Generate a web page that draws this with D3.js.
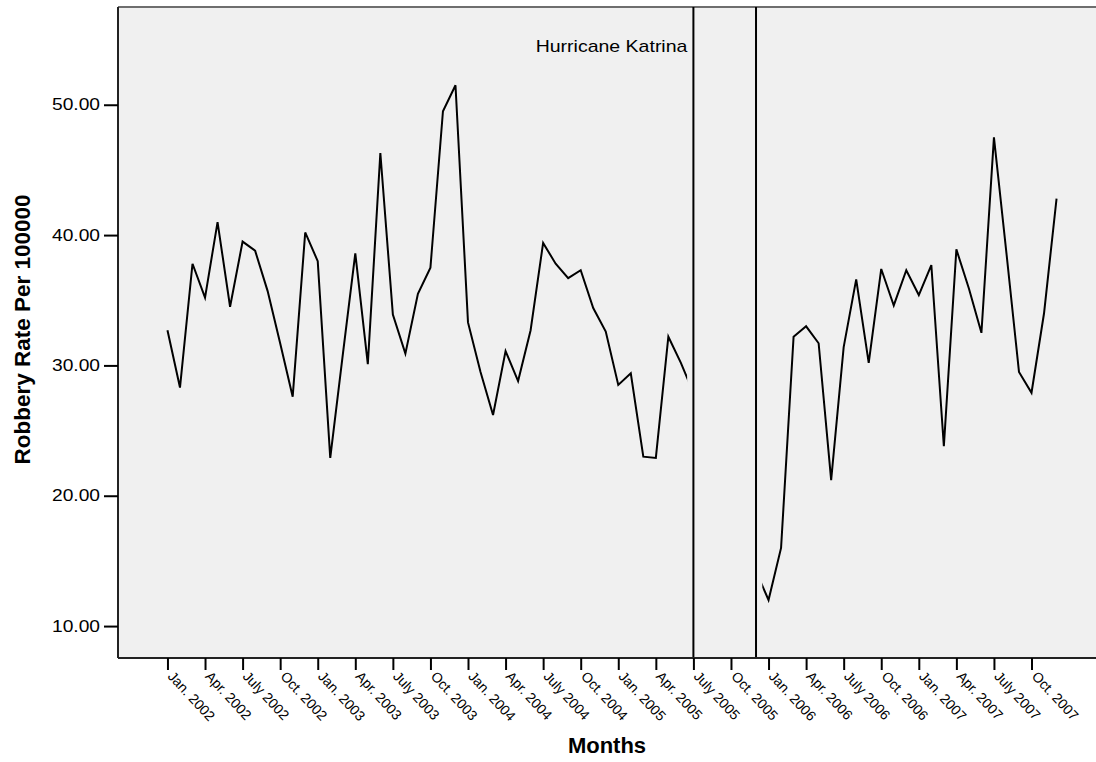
<!DOCTYPE html>
<html>
<head>
<meta charset="utf-8">
<script src="https://cdn.jsdelivr.net/npm/d3@7"></script>
<style>
  html, body { margin: 0; padding: 0; background: #ffffff; }
  svg { display: block; font-family: "Liberation Sans", Arial, sans-serif; }
</style>
</head>
<body>
<svg id="chart" width="1096" height="762"></svg>
<script>
// ---- data (monthly, Jan 2002 .. Dec 2007) ----
const monthIndex = d3.range(72); // 0 = Jan. 2002
const robberyRate = [
  32.7, 28.3, 37.8, 35.2, 41.0, 34.5, 39.5, 38.8, 35.7, 31.7, 27.6, 40.2,   // 2002
  38.0, 22.9, 30.8, 38.6, 30.1, 46.3, 33.9, 30.9, 35.5, 37.5, 49.5, 51.5,   // 2003
  33.3, 29.5, 26.2, 31.1, 28.8, 32.7, 39.4, 37.8, 36.7, 37.3, 34.4, 32.6,   // 2004
  28.5, 29.4, 23.0, 22.9, 32.2, 30.2, 27.9, null, null, null, null, 14.2,   // 2005
  12.0, 16.0, 32.2, 33.0, 31.7, 21.2, 31.4, 36.6, 30.2, 37.4, 34.6, 37.3,   // 2006
  35.4, 37.7, 23.8, 38.9, 35.9, 32.5, 47.5, 38.6, 29.5, 27.9, 34.0, 42.8    // 2007
];
const tickMonths = [0,3,6,9,12,15,18,21,24,27,30,33,36,39,42,45,48,51,54,57,60,63,66,69];
const tickLabels = [
  "Jan. 2002","Apr. 2002","July 2002","Oct. 2002",
  "Jan. 2003","Apr. 2003","July 2003","Oct. 2003",
  "Jan. 2004","Apr. 2004","July 2004","Oct. 2004",
  "Jan. 2005","Apr. 2005","July 2005","Oct. 2005",
  "Jan. 2006","Apr. 2006","July 2006","Oct. 2006",
  "Jan. 2007","Apr. 2007","July 2007","Oct. 2007"
];
const yTicks = [10, 20, 30, 40, 50];
const refLines = [42, 47];           // July 2005, Dec. 2005
const refLabel = "Hurricane Katrina";
const gapMonths = [41.5, 47.5];      // no line drawn between these

// ---- layout ----
const svg = d3.select("#chart");
const plot = { left: 118, right: 1097, top: 7, bottom: 658 };
const textStretch = 1.2;

const x = d3.scaleLinear().domain([-3.95, 74.15]).range([plot.left, 1096]);
const y = d3.scaleLinear().domain([7.55, 57.5]).range([plot.bottom, plot.top]);

// background
svg.append("rect")
  .attr("x", plot.left).attr("y", plot.top)
  .attr("width", plot.right - plot.left).attr("height", plot.bottom - plot.top)
  .attr("fill", "#f0f0f0");

// top border (grey)
svg.append("line")
  .attr("x1", plot.left).attr("x2", plot.right)
  .attr("y1", plot.top).attr("y2", plot.top)
  .attr("stroke", "#6e6e6e").attr("stroke-width", 2);

// clip paths excluding the gap
const defs = svg.append("defs");
const cp = defs.append("clipPath").attr("id", "clipData");
cp.append("rect")
  .attr("x", plot.left).attr("y", plot.top)
  .attr("width", x(gapMonths[0]) - plot.left).attr("height", plot.bottom - plot.top);
cp.append("rect")
  .attr("x", x(gapMonths[1])).attr("y", plot.top)
  .attr("width", plot.right - x(gapMonths[1])).attr("height", plot.bottom - plot.top);

// data line
const line = d3.line()
  .defined(d => d[1] !== null)
  .x(d => x(d[0]))
  .y(d => y(d[1]));
svg.append("path")
  .datum(monthIndex.map(i => [i, robberyRate[i]]))
  .attr("d", line)
  .attr("fill", "none")
  .attr("stroke", "#000")
  .attr("stroke-width", 2)
  .attr("stroke-linejoin", "miter")
  .attr("clip-path", "url(#clipData)");

// reference lines
svg.selectAll("line.ref").data(refLines).enter().append("line")
  .attr("class", "ref")
  .attr("x1", d => x(d)).attr("x2", d => x(d))
  .attr("y1", plot.top).attr("y2", plot.bottom)
  .attr("stroke", "#000").attr("stroke-width", 2);

svg.append("text")
  .attr("transform", `translate(${x(refLines[0]) - 6},52) scale(1.22,1)`)
  .attr("text-anchor", "end")
  .attr("font-size", 16)
  .attr("fill", "#000")
  .text(refLabel);

// y axis
const yAxis = d3.axisLeft(y).tickValues(yTicks).tickFormat(d3.format(".2f")).tickSize(14).tickPadding(4);
const gy = svg.append("g").attr("transform", `translate(${plot.left},0)`).call(yAxis);
gy.select(".domain").attr("stroke", "#222").attr("stroke-width", 2)
  .attr("d", `M0,${plot.top}V${plot.bottom}`);
gy.selectAll(".tick line").attr("stroke", "#000").attr("stroke-width", 2);
gy.selectAll(".tick text")
  .attr("font-size", 16)
  .attr("font-family", "Liberation Sans, Arial, sans-serif")
  .attr("fill", "#000")
  .attr("x", 0)
  .attr("transform", `translate(-18,0) scale(${textStretch},1)`);

// x axis
const xAxis = d3.axisBottom(x).tickValues(tickMonths).tickFormat((d, i) => tickLabels[i]).tickSize(12).tickPadding(0);
const gx = svg.append("g").attr("transform", `translate(0,${plot.bottom})`).call(xAxis);
gx.select(".domain").attr("stroke", "#222").attr("stroke-width", 2)
  .attr("d", `M${plot.left},0H${plot.right}`);
gx.selectAll(".tick line").attr("stroke", "#000").attr("stroke-width", 2);
gx.selectAll(".tick text")
  .attr("font-size", 14)
  .attr("font-family", "Liberation Sans, Arial, sans-serif")
  .attr("fill", "#000")
  .attr("text-anchor", "start")
  .attr("dy", null)
  .attr("y", 0)
  .attr("transform", "translate(-1,19) rotate(47)");

// axis titles
svg.append("text")
  .attr("transform", `translate(30,${(plot.top + plot.bottom) / 2 - 3}) rotate(-90)`)
  .attr("text-anchor", "middle")
  .attr("font-size", 22.5).attr("font-weight", "bold")
  .attr("fill", "#000")
  .text("Robbery Rate Per 100000");

svg.append("text")
  .attr("x", 607).attr("y", 753)
  .attr("text-anchor", "middle")
  .attr("font-size", 22).attr("font-weight", "bold")
  .attr("fill", "#000")
  .text("Months");
</script>
</body>
</html>
